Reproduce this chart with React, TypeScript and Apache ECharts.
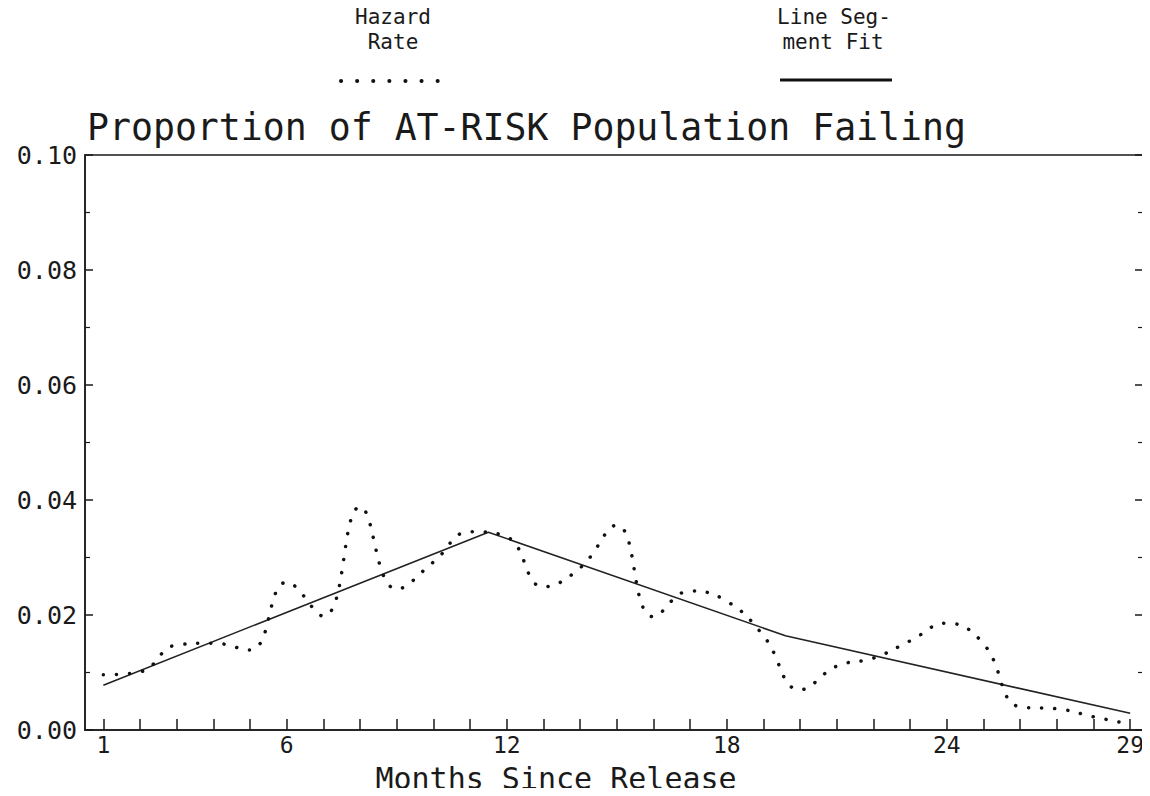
import React, { useEffect, useRef } from "react";
import * as echarts from "echarts";

const months = [1, 2, 3, 4, 5, 6, 7, 8, 9, 10, 11, 12, 13, 14, 15, 16, 17, 18, 19, 20, 21, 22, 23, 24, 25, 26, 27, 28, 29];
const hazardRate = [
  0.0096, 0.0101, 0.0148, 0.0151, 0.0139, 0.0257, 0.0198, 0.0388, 0.0245, 0.0292,
  0.0345, 0.0336, 0.0249, 0.0282, 0.0356, 0.0197, 0.0242, 0.0224, 0.0164, 0.007,
  0.0111, 0.0125, 0.0155, 0.0186, 0.015, 0.004, 0.0037, 0.0023, 0.001,
];
const fitMonths = [1, 11.5, 19.6, 29];
const fitValues = [0.0078, 0.0344, 0.0164, 0.0029];
const xLabelMonths = [1, 6, 12, 18, 24, 29];
const titleText = "Proportion of AT-RISK Population Failing";
const xAxisTitle = "Months Since Release";
const legendHazard = ["Hazard", "Rate"];
const legendFit = ["Line Seg-", "ment Fit"];

const FONT = '"DejaVu Sans Mono", monospace';
const INK = "#1a1a1a";

export default function App() {
  const ref = useRef<HTMLDivElement>(null);
  useEffect(() => {
    if (!ref.current) return;
    const chart = echarts.init(ref.current, undefined, { renderer: "svg" });
    const yAxisBase = {
      type: "value",
      min: 0,
      max: 0.1,
      interval: 0.02,
      axisLine: { show: true, lineStyle: { color: INK, width: 1.5 } },
      axisTick: { show: true, inside: true, length: 8, lineStyle: { color: INK, width: 1.5 } },
      minorTick: { show: true, splitNumber: 2, length: 5, lineStyle: { color: INK, width: 1.2 } },
      splitLine: { show: false },
    };
    const legendText = (text: string, x: number, y: number) => ({
      type: "text",
      x,
      y,
      style: { text, font: `21px ${FONT}`, fill: INK, align: "center", verticalAlign: "middle" },
    });
    chart.setOption({
      animation: false,
      backgroundColor: "#ffffff",
      grid: {
        left: 85,
        right: 7,
        top: 155,
        bottom: 66,
        show: true,
        borderColor: INK,
        borderWidth: 1.5,
      },
      xAxis: {
        type: "value",
        min: 0.5,
        max: 29.35,
        axisLine: { show: true, lineStyle: { color: INK, width: 1.5 } },
        axisTick: {
          show: true,
          inside: true,
          length: 11,
          customValues: months,
          lineStyle: { color: INK, width: 1.5 },
        },
        axisLabel: {
          customValues: xLabelMonths,
          color: INK,
          fontFamily: FONT,
          fontSize: 23,
          margin: 3,
        },
        splitLine: { show: false },
      },
      yAxis: [
        {
          ...yAxisBase,
          position: "left",
          axisLabel: {
            color: INK,
            fontFamily: FONT,
            fontSize: 25,
            margin: 8,
            formatter: (v: number) => v.toFixed(2),
          },
        },
        {
          ...yAxisBase,
          position: "right",
          axisLabel: { show: false },
        },
      ],
      series: [
        {
          name: "Hazard Rate",
          type: "line",
          smooth: 0.45,
          showSymbol: false,
          data: months.map((m, i) => [m, hazardRate[i]]),
          lineStyle: { color: "#111", width: 3.5, type: [0.1, 13], cap: "round" },
          z: 3,
        },
        {
          name: "Line Segment Fit",
          type: "line",
          showSymbol: false,
          data: fitMonths.map((m, i) => [m, fitValues[i]]),
          lineStyle: { color: "#222", width: 1.6 },
          z: 2,
        },
      ],
      graphic: [
        {
          type: "text",
          x: 87,
          y: 127,
          style: { text: titleText, font: `36.5px ${FONT}`, fill: INK, align: "left", verticalAlign: "middle" },
        },
        {
          type: "text",
          x: 556,
          y: 778,
          style: { text: xAxisTitle, font: `30px ${FONT}`, fill: INK, align: "center", verticalAlign: "middle" },
        },
        legendText(legendHazard[0], 393, 17),
        legendText(legendHazard[1], 393, 42),
        legendText(legendFit[0], 834, 17),
        legendText(legendFit[1], 833, 42),
        {
          type: "line",
          shape: { x1: 341, y1: 81, x2: 438, y2: 81 },
          style: { stroke: "#111", lineWidth: 4, lineDash: [0.1, 16], lineCap: "round" },
        },
        {
          type: "line",
          shape: { x1: 780, y1: 80, x2: 892, y2: 80 },
          style: { stroke: "#111", lineWidth: 3 },
        },
      ],
    });
    return () => chart.dispose();
  }, []);
  return <div ref={ref} style={{ width: 1150, height: 796, margin: -8 }} />;
}
